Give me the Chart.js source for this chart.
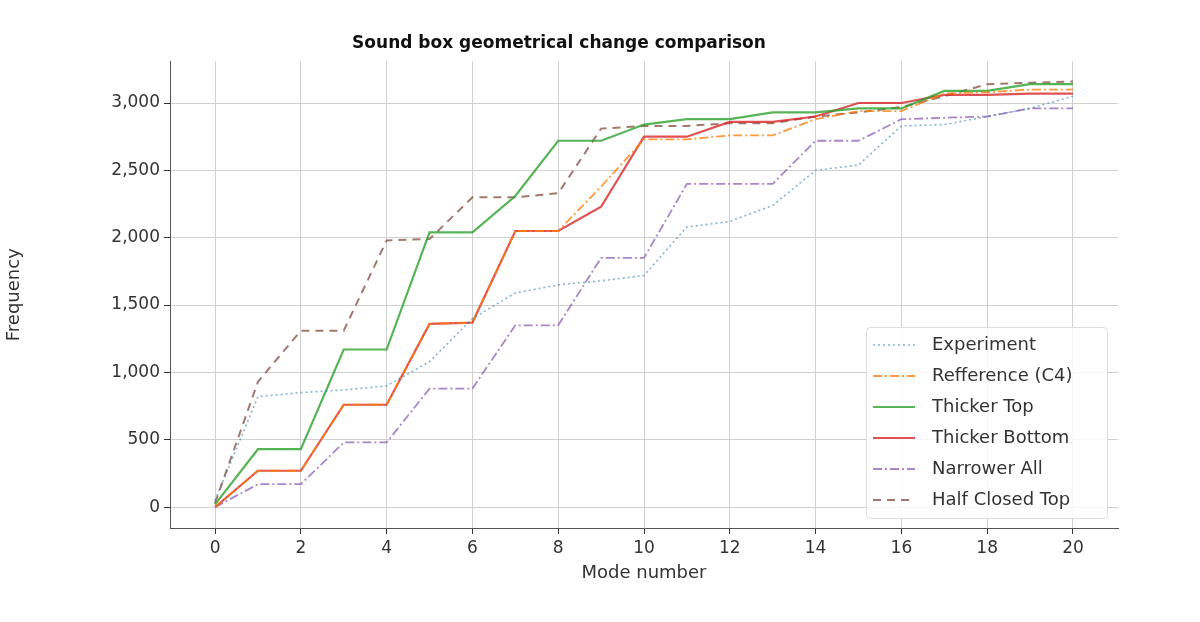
<!DOCTYPE html>
<html><head><script src="https://cdn.jsdelivr.net/npm/chart.js@4"></script>
<style>body{margin:0;background:#fff}</style></head>
<body><canvas id="c" width="1200" height="622" style="width:1200px;height:622px;display:block"></canvas>
<script>
const modes=[0,1,2,3,4,5,6,7,8,9,10,11,12,13,14,15,16,17,18,19,20];
const experiment=[50,820,850,870,900,1080,1400,1590,1650,1680,1720,2080,2120,2240,2500,2540,2830,2840,2900,2960,3050];
const reference=[0,270,270,760,760,1360,1370,2050,2050,2380,2730,2730,2760,2760,2880,2940,2940,3070,3080,3100,3100];
const thickerTop=[20,430,430,1170,1170,2040,2040,2310,2720,2720,2840,2880,2880,2930,2930,2960,2960,3090,3090,3140,3140];
const thickerBottom=[0,270,270,760,760,1360,1370,2050,2050,2230,2750,2750,2860,2860,2900,3000,3000,3060,3060,3070,3070];
const narrowerAll=[0,170,170,480,480,880,880,1350,1350,1850,1850,2400,2400,2400,2720,2720,2880,2890,2900,2960,2960];
const halfClosedTop=[30,930,1310,1310,1980,1990,2300,2300,2330,2810,2830,2830,2850,2850,2900,2930,2970,3050,3140,3150,3160];
const xTicks=[0,2,4,6,8,10,12,14,16,18,20];
const yTicks=[0,500,1000,1500,2000,2500,3000];
const series=[
 ['Experiment',experiment,'rgba(31,119,180,0.55)',[2,3],1.6],
 ['Refference (C4)',reference,'rgba(255,127,14,0.8)',[9,3,2,3],1.8],
 ['Thicker Top',thickerTop,'rgba(44,160,44,0.8)',[],2.2],
 ['Thicker Bottom',thickerBottom,'rgba(214,39,40,0.8)',[],2.2],
 ['Narrower All',narrowerAll,'rgba(148,103,189,0.8)',[9,3,2,3],1.8],
 ['Half Closed Top',halfClosedTop,'rgba(140,86,75,0.8)',[8,6],2]
];
const legendPlugin={id:'lg',afterDraw(ch){
 const c=ch.ctx;c.save();
 c.fillStyle='rgba(255,255,255,0.85)';c.strokeStyle='#ddd';c.lineWidth=1;
 c.beginPath();c.roundRect(866.5,327.5,241,191,4);c.fill();c.stroke();
 series.forEach((s,i)=>{const y=345+i*31;
  c.strokeStyle=s[2];c.lineWidth=s[4];c.setLineDash(s[3]);
  c.beginPath();c.moveTo(873,y);c.lineTo(915,y);c.stroke();c.setLineDash([]);
  c.fillStyle='#333';c.font='18px "DejaVu Sans"';c.textBaseline='middle';c.fillText(s[0],932,y);});
 c.restore();}};
new Chart(document.getElementById('c'),{type:'line',
 data:{datasets:series.map(s=>({label:s[0],data:modes.map((m,i)=>({x:m,y:s[1][i]})),borderColor:s[2],borderDash:s[3],borderWidth:s[4],pointRadius:0,fill:false,tension:0}))},
 options:{responsive:false,animation:false,devicePixelRatio:1,
  layout:{padding:{left:0,right:82,top:0,bottom:34}},
  plugins:{legend:{display:false},tooltip:{enabled:false},
   title:{display:true,text:'Sound box geometrical change comparison',color:'#111',font:{family:'DejaVu Sans',size:17,weight:'bold'},padding:{top:33,bottom:8}}},
  scales:{
   x:{type:'linear',min:-1.05,max:21.05,afterBuildTicks(a){a.ticks=xTicks.map(v=>({value:v}))},
    ticks:{color:'#333',font:{family:'DejaVu Sans',size:17},padding:4,maxRotation:0,autoSkip:false},
    grid:{color:'#d0d0d0',tickLength:6,tickColor:'#333'},border:{color:'#555'},
    title:{display:true,text:'Mode number',color:'#333',font:{family:'DejaVu Sans',size:18},padding:{top:0}}},
   y:{min:-155,max:3309,afterBuildTicks(a){a.ticks=yTicks.map(v=>({value:v}))},
    ticks:{color:'#333',font:{family:'DejaVu Sans',size:17},padding:4,autoSkip:false},
    grid:{color:'#d0d0d0',tickLength:6,tickColor:'#333'},border:{color:'#555'},
    title:{display:true,text:'Frequency',color:'#333',font:{family:'DejaVu Sans',size:18},padding:{bottom:4}},
    afterFit(a){a.width=170;}}
  }}, plugins:[legendPlugin]});
</script></body></html>
